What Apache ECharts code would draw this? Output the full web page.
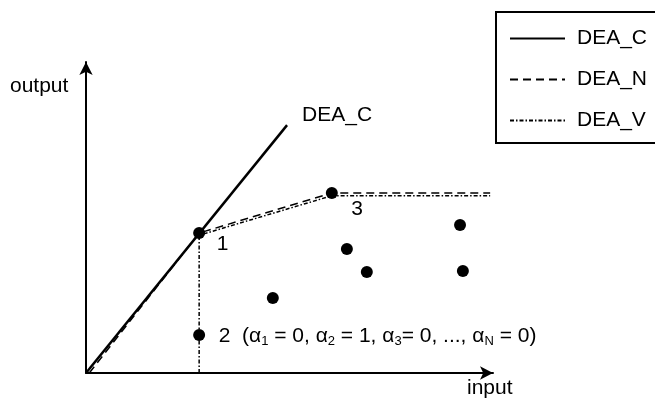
<!DOCTYPE html>
<html>
<head>
<meta charset="utf-8">
<script src="https://cdn.jsdelivr.net/npm/echarts@6/dist/echarts.min.js"></script>
<style>html,body{margin:0;padding:0;background:#fff;}#c{width:655px;height:400px;}</style>
</head>
<body>
<div id="c"></div>
<script>
// Frontier lines (input, output)
const frontierC = [[0, 0], [4.94, 7.97]];
const frontierN = [[0.08, 0], [2.78, 4.50], [6.04, 5.79], [9.93, 5.79]];
const frontierV = [[2.78, 0], [2.78, 4.43], [6.04, 5.70], [9.93, 5.70]];
// DMU points
const dmuInput  = [2.78, 2.78, 6.04, 6.41, 6.90, 9.19, 9.26, 4.59];
const dmuOutput = [4.50, 1.22, 5.79, 3.99, 3.25, 4.76, 3.28, 2.41];
const dmuLabels = ['1', '2  (\u03b1{s|1} = 0, \u03b1{s|2} = 1, \u03b1{s|3}= 0, ..., \u03b1{s|N} = 0)', '3', '', '', '', '', ''];
const seriesNames = ['DEA_C', 'DEA_N', 'DEA_V'];
const axisNames = ['input', 'output'];

const FONT = 'Liberation Sans, Arial, sans-serif';
const FS = 21;
const labelPlace = [
  {distance: 11.5, offset: [0, 11]},
  {distance: 13.5, offset: [0, 1]},
  {distance: 13.5, offset: [0, 16]}
];

const dmuData = dmuInput.map((x, i) => {
  const item = {value: [x, dmuOutput[i]]};
  if (dmuLabels[i]) {
    item.label = Object.assign({
      show: true, position: 'right', formatter: dmuLabels[i],
      color: '#000', fontSize: FS, fontFamily: FONT, lineHeight: 24,
      rich: {s: {fontSize: 13, fontFamily: FONT, color: '#000', verticalAlign: 'bottom', lineHeight: 24}}
    }, labelPlace[i]);
  }
  return item;
});

const chart = echarts.init(document.getElementById('c'), null, {renderer: 'canvas'});
const axisCommon = {
  type: 'value', min: 0, max: 10,
  axisLine: {show: true, symbol: ['none', 'arrow'], symbolSize: [10, 13], lineStyle: {color: '#000', width: 2}},
  axisTick: {show: false}, axisLabel: {show: false}, splitLine: {show: false}
};
chart.setOption({
  animation: false,
  backgroundColor: '#fff',
  grid: {left: 86, right: 162, top: 62, bottom: 27},
  xAxis: axisCommon,
  yAxis: axisCommon,
  legend: {
    data: seriesNames,
    orient: 'vertical',
    left: 496, top: 12,
    padding: [16, 10, 12, 13],
    itemGap: 20, itemWidth: 55, itemHeight: 20,
    borderColor: '#000', borderWidth: 2,
    itemStyle: {opacity: 0, borderWidth: 0},
    textStyle: {color: '#000', fontSize: FS, fontFamily: FONT, padding: [0, 0, 0, 7]},
    selectedMode: false
  },
  graphic: [
    {type: 'text', left: 467, top: 378, style: {text: axisNames[0], fontSize: FS, fontFamily: FONT, fill: '#000'}},
    {type: 'text', left: 10, top: 76, style: {text: axisNames[1], fontSize: FS, fontFamily: FONT, fill: '#000'}}
  ],
  series: [
    {
      name: seriesNames[0], type: 'line', data: frontierC, symbol: 'none',
      lineStyle: {color: '#000', width: 2.5, type: 'solid'}, itemStyle: {color: '#000'},
      endLabel: {show: true, formatter: seriesNames[0], color: '#000', fontSize: FS, fontFamily: FONT, distance: 15, offset: [0, -10]}
    },
    {
      name: seriesNames[1], type: 'line', data: frontierN, symbol: 'none',
      lineStyle: {color: '#000', width: 1.5, type: [8, 5]}, itemStyle: {color: '#000'}
    },
    {
      name: seriesNames[2], type: 'line', data: frontierV, symbol: 'none',
      lineStyle: {color: '#000', width: 1.5, type: [4, 2, 1.5, 2]}, itemStyle: {color: '#000'}
    },
    {
      name: 'DMU', type: 'scatter', data: dmuData, symbol: 'circle', symbolSize: 12,
      itemStyle: {color: '#000', opacity: 1}, z: 5
    }
  ]
});
</script>
</body>
</html>
